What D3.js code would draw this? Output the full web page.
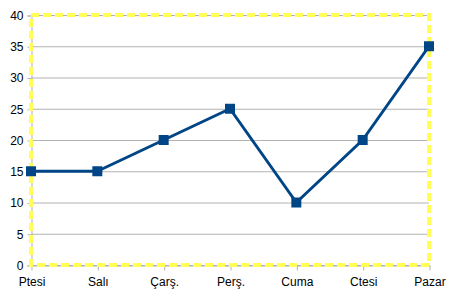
<!DOCTYPE html>
<html>
<head>
<meta charset="utf-8">
<script src="https://cdn.jsdelivr.net/npm/d3@7"></script>
<style>
  body { margin: 0; background: #fff; }
  svg { display: block; font-family: "Liberation Sans", Arial, sans-serif; }
</style>
</head>
<body>
<script>
// chart data
const days = ["Ptesi", "Salı", "Çarş.", "Perş.", "Cuma", "Ctesi", "Pazar"];
const values = [15, 15, 20, 25, 10, 20, 35];
const yTicks = [0, 5, 10, 15, 20, 25, 30, 35, 40];

// canvas variables
const width = 452;
const height = 299;
const plotLeft = 31;
const plotRight = 429;
const plotTop = 15;
const plotBottom = 265;
const lineColor = "#004586";
const gridColor = "#b3b3b3";

const svg = d3
  .select("body")
  .append("svg")
  .attr("width", width)
  .attr("height", height);

// scales
const xScale = d3.scalePoint().domain(days).range([plotLeft, plotRight]);
const yScale = d3.scaleLinear().domain([0, 40]).range([plotBottom, plotTop]);

// grid lines
svg
  .append("g")
  .selectAll("line")
  .data(yTicks)
  .enter()
  .append("line")
  .attr("x1", plotLeft)
  .attr("x2", plotRight)
  .attr("y1", (d) => yScale(d) + 0.5)
  .attr("y2", (d) => yScale(d) + 0.5)
  .attr("stroke", gridColor)
  .attr("stroke-width", 1);

// y-axis
const yAxis = svg
  .append("g")
  .attr("transform", `translate(${plotLeft + 0.5}, 0.5)`)
  .call(d3.axisLeft(yScale).tickValues(yTicks).tickSize(4).tickPadding(4));
yAxis.select(".domain").attr("stroke", gridColor);
yAxis.selectAll(".tick line").attr("stroke", gridColor);
yAxis.selectAll(".tick text").attr("fill", "#000").style("font-size", "12px");

// x-axis
const xAxis = svg
  .append("g")
  .attr("transform", `translate(0.5, ${plotBottom + 0.5})`)
  .call(d3.axisBottom(xScale).tickSize(5).tickPadding(7).tickSizeOuter(0));
xAxis.select(".domain").attr("stroke", gridColor);
xAxis.selectAll(".tick line").attr("stroke", gridColor);
xAxis.selectAll(".tick text").attr("fill", "#000").style("font-size", "12px");

// dashed yellow frame
svg
  .append("rect")
  .attr("x", plotLeft)
  .attr("y", plotTop)
  .attr("width", plotRight - plotLeft)
  .attr("height", plotBottom - plotTop)
  .attr("fill", "none")
  .attr("stroke", "#ffff55")
  .attr("stroke-width", 4)
  .attr("stroke-dasharray", "8,4");

// line
const line = d3
  .line()
  .x((d, i) => xScale(days[i]))
  .y((d) => yScale(d));

svg
  .append("path")
  .datum(values)
  .attr("d", line)
  .attr("fill", "none")
  .attr("stroke", lineColor)
  .attr("stroke-width", 3)
  .attr("stroke-linejoin", "round");

// markers
const size = 10;
svg
  .selectAll(".marker")
  .data(values)
  .enter()
  .append("rect")
  .attr("class", "marker")
  .attr("x", (d, i) => xScale(days[i]) - size / 2)
  .attr("y", (d) => yScale(d) - size / 2)
  .attr("width", size)
  .attr("height", size)
  .attr("fill", lineColor);
</script>
</body>
</html>
